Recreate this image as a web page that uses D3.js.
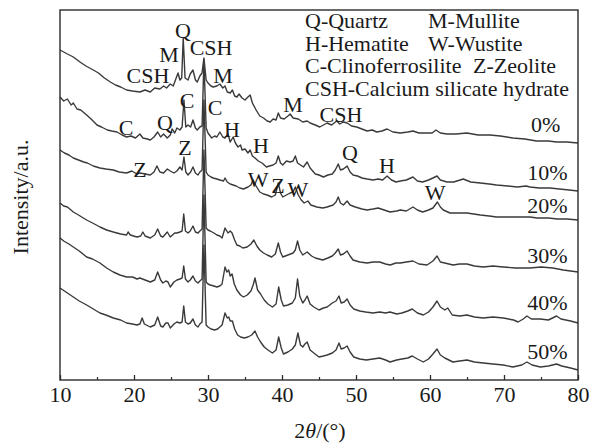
<!DOCTYPE html>
<html>
<head>
<meta charset="utf-8">
<script src="https://cdn.jsdelivr.net/npm/d3@7"></script>
<style>
  body { margin: 0; background: #fff; }
  svg text { font-family: "Liberation Serif", "Times New Roman", serif; fill: #1a1a1a; }
</style>
</head>
<body>
<div id="chart"></div>
<script>
// 2θ (deg) / intensity (a.u., curves stacked with offsets)
const s0 = [[10,330],[11,326],[11.8,323],[12.7,318],[13.5,314],[14.5,310],[15.2,307],[16,302],[16.8,298],[17.5,295],[18.2,293],[19,290],[19.8,289],[20.8,288],[21.5,290],[22.2,288],[22.8,292],[23.5,291],[24,294],[24.4,292],[24.9,296],[25.3,294],[25.6,300],[25.95,307],[26.2,300],[26.45,302],[26.65,342],[26.9,302],[27.3,300],[27.6,306],[27.97,310],[28.3,300],[28.55,298],[28.9,304],[29.19,307],[29.45,322],[29.75,300],[30,297],[30.4,294],[30.7,293],[31.2,294],[31.6,296],[32,292],[32.3,294],[32.6,288],[33,287],[33.3,290],[33.6,284],[33.9,283],[34.2,286],[34.6,282],[35,280],[35.4,283],[35.7,285],[36,277],[36.5,270],[37,264],[37.5,262],[38,259],[38.4,258],[38.8,261],[39.2,260],[39.5,267],[39.8,262],[40.3,261],[40.8,264],[41.1,266],[41.5,262],[42.2,261],[42.8,258],[43.4,259],[43.8,257],[44.5,255],[45.1,253],[45.6,255],[46.1,257],[46.7,255],[47.4,259],[47.8,256],[48.3,258],[48.8,257],[49.4,254],[50.1,253],[50.8,251],[51.5,249],[52.2,250],[52.8,248],[53.5,249],[54.2,251],[55,248],[56,247],[57,248],[57.7,249],[58.5,247],[59.6,247],[60.3,247],[60.8,250],[61.4,247],[62.3,246],[63.5,246],[65,247],[66.5,245],[68.1,245],[69.5,244],[71.2,242],[72.8,241],[74.4,239],[76,239],[77.1,238],[78.5,238],[80,237]];

const s10 = [[10,283],[10.5,279],[11,281],[11.5,275],[11.8,277],[12.3,271],[12.8,270],[13.6,265],[14.2,261],[15,255],[15.6,253],[16.4,250],[17,249],[17.7,248],[18.4,245],[19,243],[19.6,244],[20.2,242],[20.8,246],[21.2,242],[21.8,241],[22.2,240],[22.7,243],[23.2,248],[23.6,243],[24,246],[24.5,242],[24.9,245],[25.15,251],[25.5,247],[25.8,252],[26.2,250],[26.5,253],[26.75,280],[27,253],[27.3,255],[27.65,253],[27.97,260],[28.3,252],[28.55,250],[28.9,253],[29.2,254],[29.45,320],[29.75,252],[30,247],[30.5,242],[30.9,244],[31.2,243],[31.6,248],[32,243],[32.3,242],[32.7,246],[33,238],[33.4,243],[33.7,237],[34.05,233],[34.4,235],[34.6,230],[35,231],[35.4,227],[35.7,230],[36,224],[36.35,222],[36.8,219],[37.3,217],[37.9,213],[38.3,214],[38.8,215],[39.2,217],[39.5,224],[39.8,217],[40.1,215],[40.6,219],[41.1,218],[41.5,219],[41.8,224],[42.1,217],[42.5,215],[42.9,213],[43.4,218],[43.8,212],[44.5,206],[45,205],[45.6,203],[46.2,205],[46.8,206],[47.2,210],[47.6,216],[47.9,210],[48.3,211],[48.8,214],[49.2,208],[49.6,205],[50.2,204],[50.8,202],[51.5,201],[52.3,200],[53,201],[53.6,200],[54.2,204],[54.8,200],[55.4,198],[56,199],[56.8,200],[57.7,203],[58.3,199],[59,198],[59.8,200],[60.4,202],[60.95,204],[61.4,200],[62.3,198],[63.2,198],[64.5,201],[65.5,198],[66.8,197],[68,196],[69,195],[70.5,194],[71.8,193],[73,194],[73.5,193],[74.8,192],[76.2,192],[77.5,191],[78.8,190],[80,189]];

const s20 = [[10,230],[10.6,227],[11.2,225],[11.8,222],[12.5,220],[13.2,218],[13.7,217],[14.5,214],[15.4,212],[16.2,211],[17.2,210],[18,208],[19,207],[19.7,209],[20.4,206],[20.8,207],[21.5,206],[22.2,205],[22.7,208],[23.1,214],[23.5,208],[24,207],[24.5,211],[24.9,209],[25.4,207],[25.8,209],[26.2,213],[26.5,210],[26.75,223],[27,208],[27.3,205],[27.65,208],[27.97,213],[28.3,207],[28.65,205],[28.9,208],[29.2,210],[29.45,280],[29.75,208],[30,205],[30.4,203],[30.7,202],[31.2,201],[31.6,200],[32.1,199],[32.3,202],[32.6,198],[33,196],[33.4,195],[33.8,194],[34.3,192],[34.8,191],[35.4,193],[35.8,195],[36.1,200],[36.5,194],[37,188],[37.5,186],[38,185],[38.6,183],[39.1,185],[39.5,197],[39.8,187],[40.1,183],[40.6,185],[41.1,187],[41.5,188],[41.8,193],[42.2,185],[42.6,180],[43,177],[43.5,179],[43.9,175],[44.7,173],[45.5,172],[46.1,173],[46.9,175],[47.3,178],[47.6,183],[47.9,177],[48.3,175],[48.8,179],[49.2,175],[49.9,173],[50.8,171],[51.5,170],[52.3,171],[53,172],[53.8,170],[54.6,168],[55.5,169],[56,170],[56.8,169],[57.7,173],[58.3,170],[59,168],[59.8,170],[60.4,172],[61,178],[61.4,173],[61.8,170],[62.7,167],[64,167],[65,167],[66.8,165],[68,164],[69,163],[70.5,163],[71.8,163],[73.5,163],[74.5,162],[76,162],[77.2,161],[78.5,161],[80,160]];

const s30 = [[10,177],[10.5,174],[11,173],[11.8,168],[12.5,165],[13.6,160],[14.4,157],[15.4,153],[16.3,150],[17.2,148],[18.2,146],[19,145],[19.2,148],[19.5,145],[20.4,143],[20.9,144],[21.2,148],[21.5,144],[22.2,142],[22.8,145],[23.2,151],[23.6,144],[23.9,143],[24.5,148],[24.9,143],[25.5,147],[25.8,147],[26.2,148],[26.5,149],[26.72,166],[26.95,149],[27.3,147],[27.6,149],[27.97,154],[28.3,148],[28.65,147],[28.9,149],[29.2,151],[29.45,230],[29.75,152],[30,150],[30.3,149],[30.8,147],[31.2,145],[31.6,144],[31.9,142],[32.3,152],[32.7,147],[33,149],[33.25,147],[33.6,140],[33.9,135],[34.3,134],[34.7,132],[35.3,133],[35.8,136],[36.2,140],[36.6,134],[37,130],[37.5,127],[38,125],[38.6,123],[39.1,126],[39.5,137],[39.8,128],[40.1,123],[40.8,125],[41.5,127],[41.8,130],[42.1,139],[42.4,130],[42.8,125],[43.4,128],[44,124],[44.5,122],[45.5,120],[46.2,122],[46.8,124],[47.2,127],[47.6,131],[47.9,125],[48.3,126],[48.8,129],[49.2,124],[49.6,120],[50.5,118],[51.5,117],[52.3,118],[53.2,118],[54,116],[54.6,115],[55.4,117],[56,117],[56.8,118],[57.7,119],[58.5,116],[59.6,115],[60.4,119],[60.95,124],[61.4,118],[62,117],[63.1,115],[64,116],[65,116],[66,114],[67.2,113],[68.5,114],[69.9,113],[71.5,112],[73.5,112],[75,113],[76.6,112],[78,110],[80,108]];

const s40 = [[10,142],[10.5,139],[11.2,136],[11.8,133],[12.6,129],[13.6,123],[14.4,121],[15.4,117],[16.3,112],[17.2,108],[18.1,105],[19,103],[19.8,103],[20.4,101],[20.8,102],[21.5,100],[22.2,98],[22.8,100],[23.2,108],[23.6,100],[23.9,97],[24.3,99],[24.6,98],[24.9,93],[25.4,98],[25.8,100],[26.2,101],[26.5,102],[26.72,114],[26.95,101],[27.3,98],[27.6,100],[27.97,104],[28.3,99],[28.65,97],[28.9,99],[29.2,101],[29.45,185],[29.75,98],[30,96],[30.3,95],[30.8,94],[31.2,93],[31.6,94],[31.9,96],[32.3,113],[32.55,108],[32.8,110],[33,104],[33.25,106],[33.55,96],[33.9,90],[34.4,85],[34.8,83],[35.3,85],[35.8,89],[36.1,95],[36.35,102],[36.7,90],[37.1,86],[37.6,80],[38.1,76],[38.7,73],[39.2,76],[39.55,93],[39.9,80],[40.2,74],[40.8,75],[41.4,77],[41.8,82],[42.1,101],[42.4,84],[42.8,77],[43.1,80],[43.4,84],[43.8,76],[44.3,73],[45,70],[45.6,72],[46.1,73],[46.8,77],[47.3,79],[47.7,84],[48,77],[48.4,78],[48.8,81],[49.2,75],[49.7,71],[50.5,69],[51.3,68],[52.3,67],[53.2,68],[54,67],[54.6,68],[55.5,66],[56.2,67],[57,69],[57.6,71],[58.3,67],[59.1,65],[59.8,68],[60.4,73],[60.95,79],[61.4,73],[62,70],[62.4,72],[63,65],[64,64],[65,65],[66,63],[67.2,62],[68.5,63],[69.9,62],[71.3,60],[71.9,58],[72.6,61],[73.1,64],[73.7,61],[74.9,61],[76,60],[77.1,64],[77.7,61],[79,59],[80,57]];

const s50 = [[10,92],[10.6,89],[11.2,86],[11.8,83],[12.6,79],[13.6,75],[14.5,71],[15.4,67],[16.2,65],[17.2,62],[18.2,60],[19,57],[19.8,56],[20.4,55],[20.8,56],[21.1,62],[21.4,56],[22.2,53],[22.8,55],[23.2,63],[23.6,54],[23.9,53],[24.3,57],[24.6,57],[24.9,52],[25.4,56],[25.8,58],[26.2,57],[26.5,58],[26.72,74],[26.95,58],[27.3,56],[27.6,57],[27.97,61],[28.3,55],[28.65,53],[28.9,56],[29.2,58],[29.45,135],[29.75,55],[30,53],[30.4,51],[30.9,50],[31.3,51],[31.6,53],[31.9,55],[32.3,67],[32.6,62],[32.8,63],[33,59],[33.3,59],[33.6,51],[34,45],[34.4,43],[34.9,42],[35.4,43],[35.9,45],[36.35,49],[36.7,43],[37.1,38],[37.6,33],[38.1,30],[38.7,27],[39.2,30],[39.55,43],[39.9,32],[40.2,26],[40.8,28],[41.4,31],[41.8,35],[42.15,47],[42.5,35],[42.8,33],[43.1,36],[43.4,38],[43.8,30],[44.3,27],[45,23],[45.6,24],[46.1,25],[46.8,27],[47.3,30],[47.7,37],[48,31],[48.4,32],[48.8,34],[49.2,28],[49.7,23],[50.5,21],[51.4,20],[52.3,21],[53.2,22],[54,20],[54.6,18],[55.5,20],[56.2,21],[57,22],[57.6,24],[58.3,21],[59.1,18],[59.8,21],[60.4,26],[60.95,31],[61.4,25],[62,22],[63.1,18],[64,19],[65,20],[66,18],[67.2,17],[68.5,16],[69.9,15],[71.2,13],[72.4,15],[73.1,18],[73.8,15],[74.9,13],[76,14],[77.1,16],[77.8,14],[79,12],[80,10]];

const seriesNames = ['0%', '10%', '20%', '30%', '40%', '50%'];
const seriesData = [s0, s10, s20, s30, s40, s50];
// where each curve's name sits: [2θ at right end of text, intensity at baseline]
const seriesLabelAt = [[77.6, 248], [78.6, 200], [78.6, 167], [78.6, 117], [78.6, 70], [78.6, 21]];

// phase marks: [letter, 2θ, intensity]
const phaseMarks = [
  ['Q', 26.62, 342], ['CSH', 30.41, 325], ['M', 24.73, 318], ['CSH', 21.89, 297],
  ['C', 27.16, 272], ['M', 32.03, 297], ['C', 30.95, 265], ['M', 41.49, 268],
  ['C', 18.92, 245], ['Q', 24.19, 250], ['H', 33.24, 243], ['H', 37.16, 227],
  ['Z', 26.89, 225], ['Z', 20.81, 203], ['W', 36.76, 193], ['Z', 39.46, 187],
  ['W', 42.16, 183], ['CSH', 47.97, 258], ['Q', 49.19, 220], ['H', 54.19, 207],
  ['W', 60.68, 180]
];

const legendRows = [
  ['Q-Quartz', 'M-Mullite'],
  ['H-Hematite', 'W-Wustite'],
  ['C-Clinoferrosilite', 'Z-Zeolite'],
  ['CSH-Calcium silicate hydrate', '']
];

const majorTicks = [10, 20, 30, 40, 50, 60, 70, 80];
const minorTicks = [15, 25, 35, 45, 55, 65, 75];

const margin = {top: 10, right: 15, bottom: 67, left: 60};
const width = 593 - margin.left - margin.right;
const height = 447 - margin.top - margin.bottom;
const ink = '#2b2b2b';
const fontSize = '22px';

const svg = d3.select('#chart')
  .append('svg')
  .attr('width', 593)
  .attr('height', 447);

const g = svg.append('g')
  .attr('transform', `translate(${margin.left},${margin.top})`);

const x = d3.scaleLinear().domain([10, 80]).range([0, width]);
const y = d3.scaleLinear().domain([0, 370]).range([height, 0]);

const line = d3.line()
  .x(d => x(d[0]))
  .y(d => y(d[1]));

g.selectAll('path.xrd')
  .data(seriesData)
  .enter()
  .append('path')
  .attr('class', 'xrd')
  .attr('d', line)
  .attr('fill', 'none')
  .attr('stroke', '#3a3a3a')
  .attr('stroke-width', 1.4)
  .attr('stroke-linejoin', 'round');

// frame
g.append('rect')
  .attr('width', width)
  .attr('height', height)
  .attr('fill', 'none')
  .attr('stroke', ink)
  .attr('stroke-width', 1.4);

// ticks point inward
const xAxis = g.append('g')
  .attr('transform', `translate(0,${height})`)
  .call(d3.axisBottom(x).tickValues(majorTicks).tickSizeInner(-5).tickSizeOuter(0).tickPadding(6));
xAxis.select('.domain').remove();
xAxis.selectAll('line').attr('stroke', ink).attr('stroke-width', 1.3);
xAxis.selectAll('text').style('font-size', fontSize).attr('fill', '#1a1a1a')
  .style('font-family', '"Liberation Serif", "Times New Roman", serif');

const xMinor = g.append('g')
  .attr('transform', `translate(0,${height})`)
  .call(d3.axisBottom(x).tickValues(minorTicks).tickSizeInner(-3).tickSizeOuter(0).tickFormat(''));
xMinor.select('.domain').remove();
xMinor.selectAll('line').attr('stroke', ink).attr('stroke-width', 1.2);

// curve names
g.selectAll('text.series')
  .data(seriesNames)
  .enter()
  .append('text')
  .attr('class', 'series')
  .attr('x', (d, i) => x(seriesLabelAt[i][0]))
  .attr('y', (d, i) => y(seriesLabelAt[i][1]))
  .attr('text-anchor', 'end')
  .style('font-size', fontSize)
  .text(d => d);

// phase letters over the peaks
g.selectAll('text.phase')
  .data(phaseMarks)
  .enter()
  .append('text')
  .attr('class', 'phase')
  .attr('x', d => x(d[1]))
  .attr('y', d => y(d[2]))
  .attr('text-anchor', 'middle')
  .style('font-size', fontSize)
  .text(d => d[0]);

// legend (plain text lines)
const legend = svg.append('g').attr('transform', 'translate(305,28)');
legendRows.forEach((row, i) => {
  legend.append('text')
    .attr('x', 0)
    .attr('y', i * 22.7)
    .style('font-size', fontSize)
    .text(row[0]);
  if (row[1]) {
    legend.append('text')
      .attr('x', i === 2 ? 168 : 123)
      .attr('y', i * 22.7)
      .style('font-size', fontSize)
      .text(row[1]);
  }
});

// axis titles
svg.append('text')
  .attr('transform', 'translate(28,197) rotate(-90)')
  .attr('text-anchor', 'middle')
  .style('font-size', fontSize)
  .text('Intensity/a.u.');

const xt = svg.append('text')
  .attr('x', 320)
  .attr('y', 438)
  .attr('text-anchor', 'middle')
  .style('font-size', fontSize);
xt.append('tspan').text('2');
xt.append('tspan').style('font-style', 'italic').text('θ');
xt.append('tspan').text('/(°)');
</script>
</body>
</html>
